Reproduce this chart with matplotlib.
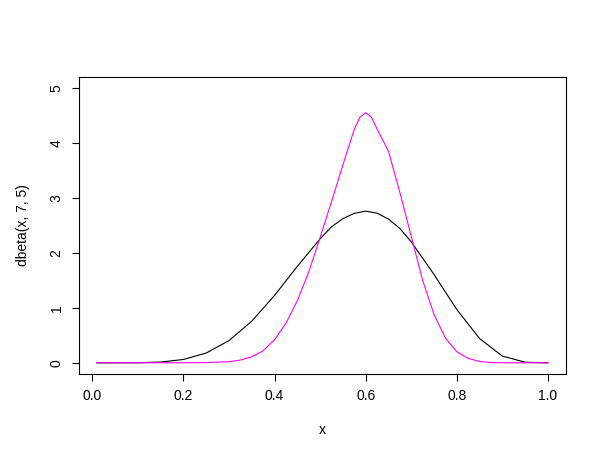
import matplotlib
matplotlib.use("Agg")
import matplotlib.pyplot as plt

plt.rcParams['font.family'] = ['Liberation Sans', 'DejaVu Sans']

# black curve
bx = [0.01, 0.05, 0.1, 0.15, 0.2, 0.25, 0.3, 0.35, 0.4, 0.45, 0.5, 0.525, 0.55,
      0.575, 0.6, 0.625, 0.65, 0.675, 0.7, 0.75, 0.8, 0.85, 0.9, 0.95, 1.0]
by = [0.0, 0.0, 0.002, 0.014, 0.061, 0.178, 0.404, 0.758, 1.226, 1.755, 2.256,
      2.474, 2.622, 2.719, 2.759, 2.723, 2.615, 2.444, 2.201, 1.606, 0.969,
      0.441, 0.123, 0.011, 0.0]

# magenta curve
mx = [0.01, 0.1, 0.2, 0.25, 0.3, 0.325, 0.35, 0.375, 0.4, 0.425, 0.45, 0.475,
      0.5, 0.525, 0.55, 0.575, 0.5875, 0.6, 0.6125, 0.625, 0.65, 0.675, 0.7,
      0.725, 0.75, 0.775, 0.8, 0.825, 0.85, 0.875, 0.9, 1.0]
my = [0.0, 0.0, 0.0, 0.005, 0.02, 0.05, 0.11, 0.22, 0.42, 0.72, 1.13, 1.65,
      2.28, 2.93, 3.6, 4.25, 4.47, 4.55, 4.47, 4.25, 3.85, 3.1, 2.3,
      1.5, 0.88, 0.45, 0.2, 0.08, 0.025, 0.005, 0.0, 0.0]

fig = plt.figure(figsize=(6.06, 4.72), dpi=100)
ax = fig.add_axes([0.130, 0.208, 0.804, 0.629])
ax.plot(bx, by, color='black', lw=0.8)
ax.plot(mx, my, color='magenta', lw=0.8)
ax.set_xlim(-0.0296, 1.0396)
ax.set_ylim(-0.2, 5.2)
ax.set_xticks([0.0, 0.2, 0.4, 0.6, 0.8, 1.0])
ax.set_xticklabels(['0.0', '0.2', '0.4', '0.6', '0.8', '1.0'])
ax.set_yticks([0, 1, 2, 3, 4, 5])
for lab in ax.get_yticklabels():
    lab.set_rotation(90)
    lab.set_va('center')
ax.tick_params(labelsize=10, length=5, width=0.8, pad=6)
ax.set_xlabel('x', fontsize=10, labelpad=14)
ax.set_ylabel('dbeta(x, 7, 5)', fontsize=10, labelpad=14)
for s in ax.spines.values():
    s.set_linewidth(0.8)
fig.savefig('out.png', dpi=100)
